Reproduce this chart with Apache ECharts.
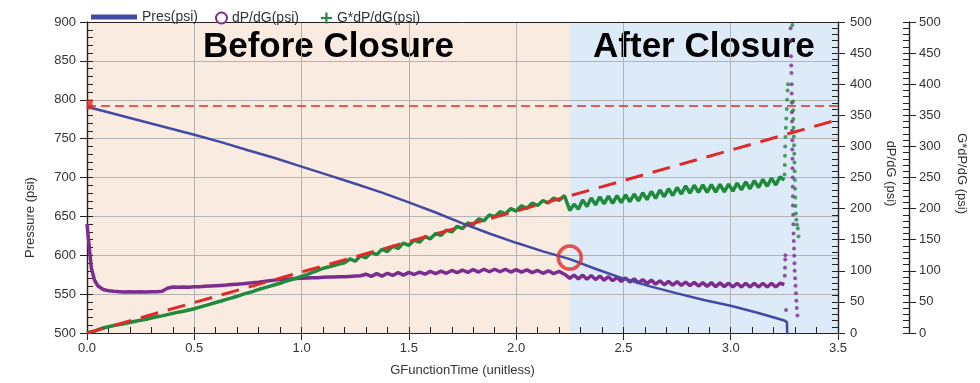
<!DOCTYPE html>
<html><head><meta charset="utf-8">
<script src="https://cdn.jsdelivr.net/npm/echarts@6/dist/echarts.min.js"></script>
<style>html,body{margin:0;padding:0;background:#fff}#c{width:980px;height:383px}</style>
</head><body><div id="c"></div>
<script>
// ---- data ----
const gTime = [0,0.01,0.02,0.035,0.05,0.075,
0.1,0.125,0.15,0.175,0.2,0.225,0.25,0.275,0.3,0.325,
0.35,0.375,0.4,0.425,0.45,0.475,0.5,0.525,0.55,0.575,
0.6,0.625,0.65,0.675,0.7,0.725,0.75,0.775,0.8,0.825,
0.85,0.875,0.9,0.925,0.95,0.975,1.0,1.025,1.05,1.075,
1.1,1.125,1.15,1.175,1.2,1.225,1.25,1.275,1.3,1.325,
1.35,1.375,1.4,1.425,1.45,1.475,1.5,1.525,1.55,1.575,
1.6,1.625,1.65,1.675,1.7,1.725,1.75,1.775,1.8,1.825,
1.85,1.875,1.9,1.925,1.95,1.975,2.0,2.025,2.05,2.075,
2.1,2.125,2.15,2.175,2.2,2.225,
2.25,2.27,2.29,2.31,2.33,2.35,2.37,2.39,2.41,2.43,
2.45,2.47,2.49,2.51,2.53,2.55,2.57,2.59,2.61,2.63,
2.65,2.67,2.69,2.71,2.73,2.75,2.77,2.79,2.81,2.83,
2.85,2.87,2.89,2.91,2.93,2.95,2.97,2.99,3.01,3.03,
3.05,3.07,3.09,3.11,3.13,3.15,3.17,3.19,3.21,3.23,
3.25];
const dpdg = [175,140,105,85,76,70,
68,67,66.5,66,66.5,66,66.5,66,66.5,66.5,
67,72,74,73.5,74,73.5,74.5,74.5,75,75.5,
76,76.5,77,78,78.5,79,80,81,81.5,83,
84,85,86,86.5,87,87.5,88,88.5,89,89,
89.5,90,90,90.5,90.5,91,91.5,92,94.5,91,
95.5,91.5,96,92.5,97,93,97.5,94,98,94.5,
99,95.5,99.5,96,100.5,97,101,97.5,102,98,
102.5,98.5,102.5,98.5,102.5,98,102,98,101.5,97,
100.5,96,100,95.5,99,94.5,
88,93,87,93,86.5,92.5,86,91.5,85,90.5,
84,89.5,83,88.5,82,87,80.5,86,79.5,85,
78.5,84,77.5,83,77,82.5,76.5,82,76,81.5,
75.5,81,75,81,74.5,80.5,74.5,80,74,80,
74,80,74,80,74,80,74,80,74,80,
78];
const gdpdg = [0,1,2,3,5,8,
10,12,13.5,15,17,19,20.5,22,24,26,
27.5,29.5,31.5,33.5,35,37,39,41.5,44,46.5,
49,51.5,54,56.5,59,62,64.5,67,70,72.5,
75,77.5,80,83,85.5,88,91,94,97.5,100.5,
104,106,108.5,111,113,119,115.5,124,121,129.5,
126,134.5,131,139.5,136,144.5,141,149.5,146,155,
151.5,160,157,165.5,162.5,171.5,168,177,174,183.5,
180.5,190,187,195,191.5,200,196,204.5,200.5,209,
205,213,209,217,213,221,
197,207,199,214,203.5,217,206,219,207.5,220,
208.5,221,209.5,222,211,223.5,212.5,225.5,214.5,227.5,
216.5,230,219,232,221,234,223.5,236.5,225,237.5,
226,238,226,238.5,226.5,239,227,239.5,228,241,
230,243,232,245,234,247,236,249,238,251,
246];
const dpdgSpikeG = [3.252,3.253,3.254,3.255,3.258,
3.279,3.28,3.281,3.282,3.283,3.284,3.284,3.285,3.285,3.286,
3.286,3.287,3.287,3.288,3.288,3.289,3.289,3.29,3.29,3.291,
3.292,3.293,3.294,3.295,3.296,3.297,3.298,3.3,3.302,3.304,
3.306,3.308,3.311];
const dpdgSpikeV = [92,105,118,125,37,
490,470,445,430,418,400,385,370,355,340,
325,310,295,280,265,250,235,220,205,190,
175,160,148,136,124,112,100,88,76,64,
52,40,28];
const gdpdgSpikeG = [3.251,3.252,3.253,3.254,3.255,3.257,3.259,3.261,3.263,3.265,3.267,
3.287,3.29,3.291,3.292,3.293,3.294,3.295,3.296,3.297,3.298,3.299,3.3,3.301,3.302,3.304,3.306,3.309,3.313,3.316];
const gdpdgSpikeV = [255,270,285,300,315,330,345,360,375,390,400,
495,372,358,344,330,316,302,288,274,260,246,232,218,204,192,182,174,168,155];
const presG = [0,0.125,0.25,0.375,0.5,0.625,0.75,0.875,1.0,1.125,1.25,1.375,1.5,1.625,1.75,1.875,
2.0,2.125,2.25,2.375,2.5,2.625,2.75,2.875,3.0,3.125,3.25,3.262,3.265];
const pres  = [791,782,773,764,755,745.5,735,725,714,703,692,680.5,668,655,641,628,
616,605,595,582,570,560,551,542.5,535,526,516,514,480];
const tangentG = [0, 3.5];
const tangentV = [0, 343];
const isipPres = 792;
const closureG = 2.25;
const closurePres = 597;
const startG = 0.012, startPres = 794;
const xTicks = {min:0, max:3.5, major:0.5, minor:0.1};
const presTicks = {min:500, max:900, major:50, minor:10};
const rightTicks = {min:0, max:500, major:50, minor:10};

// ---- styling ----
const FONT = '"Liberation Sans", Arial, sans-serif';
const AX = '#222';
const BLUE = '#434aa3', PURPLE = '#7b2c8e', GREEN = '#1f8a3b', RED = '#e02a2a';
const zip = (a, b) => a.map((v, i) => [v, b[i]]);
const lbl = {color:'#333', fontSize:13, fontFamily:FONT};
const nameStyle = {color:'#333', fontSize:13, fontFamily:FONT};

function minorAxis(t, pos, offset) {
  return {type:'value', position:pos, offset:offset||0, min:t.min, max:t.max, interval:t.minor, z:1.5,
    axisLine:{show:true, onZero:false, lineStyle:{color:AX, width:1.2}},
    axisTick:{show:true, inside:true, length:6, lineStyle:{color:AX}},
    axisLabel:{show:false}, splitLine:{show:false}};
}
function mainY(t, pos, offset, name, rot, gap, pad, split, margin) {
  return {type:'value', position:pos, offset:offset||0, min:t.min, max:t.max, interval:t.major, z:1.5,
    axisLine:{show:true, onZero:false, lineStyle:{color:AX, width:1.2}},
    axisTick:{show:true, inside:false, length:7, lineStyle:{color:AX}},
    axisLabel:Object.assign({margin:margin}, lbl),
    splitLine:{show:!!split, lineStyle:{color:'#b3b3b3', width:1}},
    name:name, nameLocation:'middle', nameRotate:rot, nameGap:gap,
    nameTextStyle:Object.assign({padding:pad}, nameStyle)};
}

const plusIcon = 'path://M4,0H6V4H10V6H6V10H4V6H0V4H4Z';

const option = {
  animation:false,
  backgroundColor:'#fff',
  grid:{left:87, right:142, top:22, bottom:50, containLabel:false, outerBoundsMode:'none'},
  legend:[
    {data:[{name:'Pres(psi)', icon:'path://M0,0L46,0L46,5L0,5Z'}], left:86, top:5,
     itemWidth:46, itemHeight:14, selectedMode:false, textStyle:{fontSize:14, color:'#333', fontFamily:FONT}},
    {data:[{name:'dP/dG(psi)', icon:'emptyCircle'}, {name:'G*dP/dG(psi)', icon:plusIcon}], left:210, top:6,
     itemWidth:11, itemHeight:11, itemGap:22, selectedMode:false, textStyle:{fontSize:14, color:'#333', fontFamily:FONT}}
  ],
  xAxis:[
    {type:'value', position:'bottom', min:xTicks.min, max:xTicks.max, interval:xTicks.major, z:1.5,
     axisLine:{show:true, onZero:false, lineStyle:{color:AX, width:1.2}},
     axisTick:{show:true, inside:false, length:7, lineStyle:{color:AX}},
     axisLabel:Object.assign({margin:9, formatter:v => v.toFixed(1)}, lbl),
     splitLine:{show:true, lineStyle:{color:'#b3b3b3', width:1}},
     name:'GFunctionTime (unitless)', nameLocation:'middle', nameGap:31, nameTextStyle:nameStyle},
    {type:'value', position:'bottom', min:xTicks.min, max:xTicks.max, interval:xTicks.minor, z:1.5,
     axisLine:{show:true, onZero:false, lineStyle:{color:AX, width:1.2}},
     axisTick:{show:true, inside:true, length:6, lineStyle:{color:AX}},
     axisLabel:{show:false}, splitLine:{show:false}},
    {type:'value', position:'top', min:xTicks.min, max:xTicks.max, z:1.5,
     axisLine:{show:true, onZero:false, lineStyle:{color:AX, width:1}}, axisTick:{show:false},
     axisLabel:{show:false}, splitLine:{show:false}}
  ],
  yAxis:[
    mainY(presTicks, 'left', 0, 'Pressure (psi)', 90, 50, [0,80,0,0], true, 11),
    minorAxis(presTicks, 'left', 0),
    mainY(rightTicks, 'right', 0, 'dP/dG (psi)', -90, 46, [0,8,0,0], false, 12),
    minorAxis(rightTicks, 'right', 0),
    mainY(rightTicks, 'right', 71, 'G*dP/dG (psi)', -90, 46, [0,8,0,0], false, 10),
    minorAxis(rightTicks, 'right', 71)
  ],
  series:[
    {type:'line', name:'bg', data:[], xAxisIndex:0, yAxisIndex:0, silent:true,
     markArea:{silent:true, z:1,
       label:{show:true, position:'insideTop', distance:8, color:'#000', fontSize:35, fontWeight:'bold', fontFamily:FONT},
       data:[
         [{name:'Before Closure', xAxis:xTicks.min, itemStyle:{color:'#f9ebdf', opacity:1}}, {xAxis:closureG}],
         [{name:'After Closure', xAxis:closureG, itemStyle:{color:'#ddeaf7', opacity:1}}, {xAxis:xTicks.max}]
       ]}},
    {type:'line', name:'dP/dG(psi)', xAxisIndex:0, yAxisIndex:2, data:zip(gTime, dpdg), showSymbol:false,
     lineStyle:{color:PURPLE, width:3.5}, itemStyle:{color:PURPLE}, z:3},
    {type:'scatter', name:'dP/dG(psi)', xAxisIndex:0, yAxisIndex:2, data:zip(dpdgSpikeG, dpdgSpikeV),
     symbolSize:4, itemStyle:{color:PURPLE}, z:3},
    {type:'line', name:'G*dP/dG(psi)', xAxisIndex:0, yAxisIndex:4, data:zip(gTime, gdpdg), showSymbol:false,
     lineStyle:{color:GREEN, width:3.5}, itemStyle:{color:GREEN}, z:4},
    {type:'scatter', name:'G*dP/dG(psi)', xAxisIndex:0, yAxisIndex:4, data:zip(gdpdgSpikeG, gdpdgSpikeV),
     symbolSize:4, itemStyle:{color:GREEN}, z:4},
    {type:'line', name:'tangent', xAxisIndex:0, yAxisIndex:4, data:zip(tangentG, tangentV), showSymbol:false,
     lineStyle:{color:RED, width:3, type:[18,10]}, z:5, silent:true},
    {type:'line', name:'Pres(psi)', xAxisIndex:0, yAxisIndex:0, data:zip(presG, pres), showSymbol:false,
     lineStyle:{color:BLUE, width:2.5}, itemStyle:{color:BLUE}, z:6,
     markLine:{silent:true, symbol:'none', label:{show:false},
       lineStyle:{color:RED, type:[9,5], width:1.5}, data:[{yAxis:isipPres}]}},
    {type:'scatter', name:'marks', xAxisIndex:0, yAxisIndex:0, silent:true, z:7,
     data:[
       {value:[closureG, closurePres], symbol:'circle', symbolSize:23,
        itemStyle:{color:'rgba(0,0,0,0)', borderColor:RED, borderWidth:3.5}},
       {value:[startG, startPres], symbol:'rect', symbolSize:[6,10], itemStyle:{color:RED}}
     ]}
  ]
};
const chart = echarts.init(document.getElementById('c'), null, {renderer:'canvas'});
chart.setOption(option);
</script>
</body></html>
